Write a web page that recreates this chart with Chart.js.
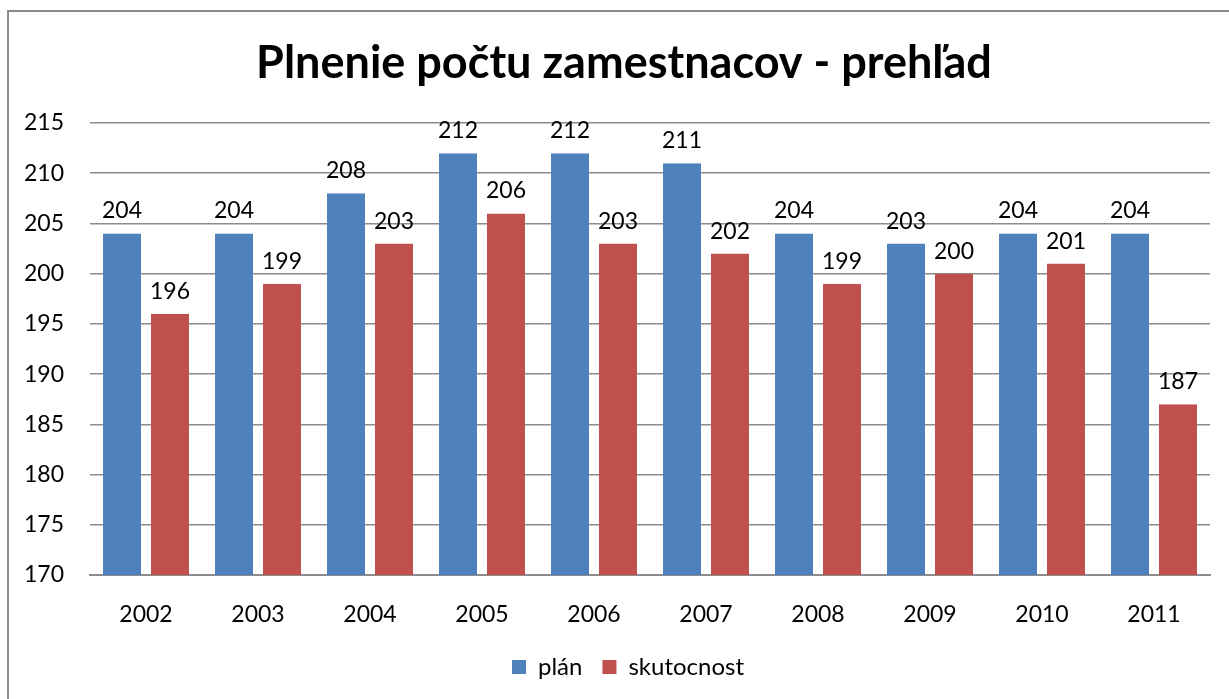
<!DOCTYPE html>
<html>
<head>
<meta charset="utf-8">
<script src="https://cdn.jsdelivr.net/npm/chart.js@4.4.1/dist/chart.umd.min.js"></script>
<style>
    html, body { margin: 0; padding: 0; background: #fff; overflow: hidden; }
    #wrap { position: relative; width: 1229px; height: 699px; }
    #frame {
        position: absolute; left: 7px; top: 10px; width: 1240px; height: 700px;
        border-top: 2px solid #8c8c8c; border-left: 2px solid #8c8c8c;
        pointer-events: none;
    }
</style>
</head>
<body>
<div id="wrap">
    <canvas id="myChart" width="1229" height="699"></canvas>
    <div id="frame"></div>
</div>
<script>
// Chart data
const years = ['2002', '2003', '2004', '2005', '2006', '2007', '2008', '2009', '2010', '2011'];
const plan = [204, 204, 208, 212, 212, 211, 204, 203, 204, 204];
const actual = [196, 199, 203, 206, 203, 202, 199, 200, 201, 187];
const yMin = 170, yMax = 215, yStep = 5;

const FONT = 'Lato, "Open Sans", sans-serif';

// Value labels above each bar
const valueLabels = {
    id: 'valueLabels',
    afterDatasetsDraw(chart) {
        const ctx = chart.ctx;
        ctx.save();
        ctx.font = '23px ' + FONT;
        ctx.fillStyle = '#000';
        ctx.textAlign = 'center';
        ctx.textBaseline = 'alphabetic';
        chart.data.datasets.forEach((ds, i) => {
            chart.getDatasetMeta(i).data.forEach((bar, j) => {
                ctx.fillText(ds.data[j], bar.x, bar.y - 15);
            });
        });
        ctx.restore();
    }
};

// Nudge title and legend to the right, like in the original
const centerShift = {
    id: 'centerShift',
    afterLayout(chart) {
        if (chart.titleBlock) {
            chart.titleBlock.left += 14;
            chart.titleBlock.right += 14;
        }
        if (chart.legend) {
            chart.legend.left += 18;
            chart.legend.right += 18;
        }
    }
};

new Chart(document.getElementById('myChart'), {
    type: 'bar',
    data: {
        labels: years,
        datasets: [{
            label: 'plán',
            data: plan,
            backgroundColor: '#4F81BD',
            borderColor: 'rgba(0,0,0,0)',
            borderWidth: { left: 5, right: 5, top: 0, bottom: 0 },
            borderSkipped: false
        }, {
            label: 'skutocnost',
            data: actual,
            backgroundColor: '#C0504D',
            borderColor: 'rgba(0,0,0,0)',
            borderWidth: { left: 5, right: 5, top: 0, bottom: 0 },
            borderSkipped: false
        }]
    },
    options: {
        responsive: false,
        animation: false,
        categoryPercentage: 0.857,
        barPercentage: 1,
        layout: { padding: { left: 10, right: 19, bottom: 10 } },
        plugins: {
            title: {
                display: true,
                text: 'Plnenie počtu zamestnacov - prehľad',
                color: '#000',
                font: { family: FONT, size: 45, weight: 'bold' },
                padding: { top: 36, bottom: 33 }
            },
            legend: {
                position: 'bottom',
                labels: {
                    color: '#000',
                    font: { family: FONT, size: 24 },
                    boxWidth: 14,
                    boxHeight: 14,
                    padding: 20
                }
            },
            tooltip: { enabled: false }
        },
        scales: {
            x: {
                afterFit(scale) { scale.height = 60; },
                grid: { display: false, drawTicks: false },
                border: { color: '#8c8c8c', width: 2 },
                ticks: { color: '#000', font: { family: FONT, size: 23 }, padding: 26 }
            },
            y: {
                min: yMin,
                max: yMax,
                afterFit(scale) { scale.width = 80; },
                grid: { color: '#8c8c8c', lineWidth: 1.5, drawTicks: false },
                border: { display: false },
                ticks: { stepSize: yStep, color: '#000', font: { family: FONT, size: 23 }, padding: 26 }
            }
        }
    },
    plugins: [valueLabels, centerShift]
});
</script>
</body>
</html>
